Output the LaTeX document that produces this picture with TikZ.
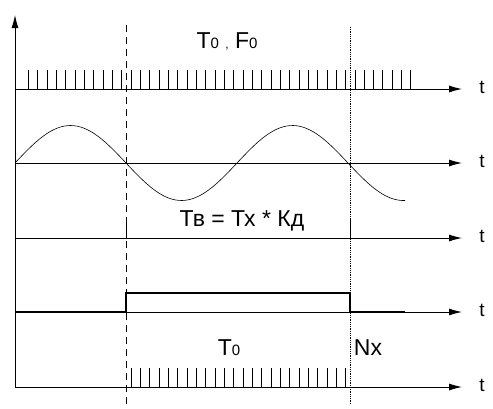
\documentclass[tikz,border=0pt]{standalone}
\usepackage{fontspec}
\setmainfont{Liberation Sans}
\usetikzlibrary{arrows.meta}
\newcommand{\lowz}{{\fontsize{15}{15}\selectfont 0}}

\begin{document}
\begin{tikzpicture}
	[x=1pt,y=-1pt,line width=0.8pt,
	every node/.style={inner sep=0pt,anchor=base,font=\fontsize{23}{25}\selectfont},
	axis/.style={line width=0.9pt,-{Latex[length=13pt,width=7pt]}},
	tlabel/.style={font=\fontsize{19}{21}\selectfont},
	tick/.style={line width=0.7pt},
	low/.style={line width=2.4pt}]
	\useasboundingbox (0,0) rectangle (493,408);
	% time axes
	\draw[axis] (15,387) -- (15,15);
	\foreach \y/\n in {89/t1,163/t2,238/t3,312/t4,387/t5}{
		\draw[axis] (15,\y) -- (462,\y);
		\node[tlabel] (\n) at (482,\y+4) {t};
	}
	% reference pulses
	\foreach \k in {0,...,41}
		\draw[tick] ({28.3+9.33*\k},89) -- ++(0,-19);
	\node (f0) at (227,48) {T\lowz\ {\fontsize{12}{12}\selectfont,}\ F\lowz};
	% measured signal
	\draw[line width=0.6pt] plot[domain=15:405,samples=120,smooth]
		(\x,{163-37.5*sin(1.6216*(\x-15))});
	% gate
	\draw[tick] (126,238) -- ++(0,-20);
	\draw[tick] (350,238) -- ++(0,-20);
	\node (tv) at (242,226) {Тв = Тх * Кд};
	\draw[low] (15,312) -- (126,312);
	\draw[line width=1.4pt] (126,312) -- (126,293) -- (350,293) -- (350,312);
	\draw[low] (350,312) -- (405,312);
	% counted pulses
	\foreach \k in {11,...,34}
		\draw[tick] ({28.3+9.33*\k},387) -- ++(0,-19);
	\node (t0) at (229,355) {T\lowz};
	\node (nx) at (368,355) {Nx};
	% gate edges
	\draw[dashed,dash pattern=on 7pt off 5pt] (126,25) -- (126,404);
	\draw[densely dotted] (350,27) -- (350,404);
\end{tikzpicture}
\end{document}
